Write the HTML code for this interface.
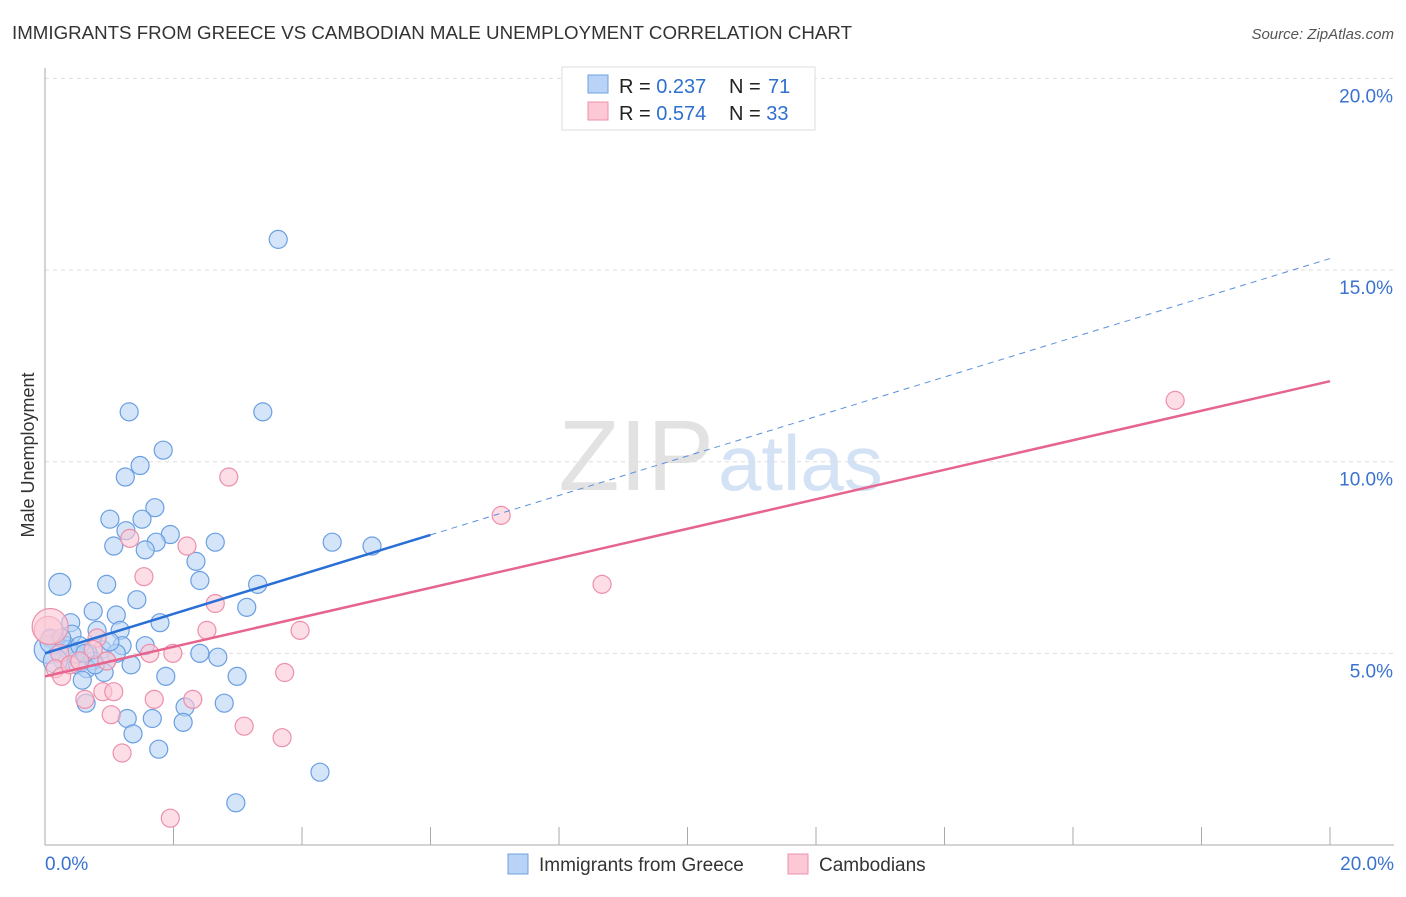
<!DOCTYPE html>
<html><head><meta charset="utf-8"><style>
body{margin:0;background:#fff;font-family:"Liberation Sans",sans-serif;}
svg text{font-family:"Liberation Sans",sans-serif;}
</style></head><body>
<svg id="chart" width="1406" height="892" xmlns="http://www.w3.org/2000/svg">
<text x="12" y="39" font-size="18" fill="#333" textLength="840" lengthAdjust="spacingAndGlyphs">IMMIGRANTS FROM GREECE VS CAMBODIAN MALE UNEMPLOYMENT CORRELATION CHART</text>
<text x="1394" y="39" font-size="15" fill="#555" font-style="italic" text-anchor="end">Source: ZipAtlas.com</text>
<text x="714" y="490" font-size="100" fill="#e2e2e2" text-anchor="end" font-family="Liberation Serif">ZIP</text>
<text x="718" y="490" font-size="78" fill="#d3e2f5">atlas</text>
<g id="grid"></g><g id="axes"></g><g id="pts"></g><g id="lines"></g>
<text x="34" y="455" font-size="18" fill="#333" text-anchor="middle" transform="rotate(-90 34 455)">Male Unemployment</text>
<g>
<rect x="562" y="67" width="253" height="63" fill="#fff" stroke="#ddd"/>
<rect x="588" y="75" width="20" height="18" fill="#b8d3f5" stroke="#6fa0e0"/>
<rect x="588" y="102" width="20" height="18" fill="#fcc8d6" stroke="#ec90ab"/>
<text x="619" y="93" font-size="20" fill="#222">R = <tspan fill="#2f6fd0">0.237</tspan></text>
<text x="729" y="93" font-size="20" fill="#222">N = <tspan x="768" fill="#2f6fd0">71</tspan></text>
<text x="619" y="120" font-size="20" fill="#222">R = <tspan fill="#2f6fd0">0.574</tspan></text>
<text x="729" y="120" font-size="20" fill="#222">N = <tspan fill="#2f6fd0">33</tspan></text>
</g>
<rect x="508" y="854" width="20" height="20" fill="#b8d3f5" stroke="#6fa0e0"/>
<text x="539" y="871" font-size="19" fill="#333">Immigrants from Greece</text>
<rect x="788" y="854" width="20" height="20" fill="#fcc8d6" stroke="#ec90ab"/>
<text x="819" y="871" font-size="19" fill="#333">Cambodians</text>
</svg>
<script>
const yTicks=[5,10,15,20];
const yTickLabels=["5.0%","10.0%","15.0%","20.0%"];
const xTickLabels=["0.0%","20.0%"];
const blueX=[3.63,1.31,3.39,1.84,1.48,1.25,1.71,1.01,1.51,1.26,1.95,1.07,1.73,1.56,2.65,4.47,5.09,2.35,0.23,0.96,2.41,3.31,1.43,0.75,1.11,3.14,1.79,0.40,1.17,0.81,0.42,0.08,1.56,1.20,0.17,0.33,0.89,0.67,1.11,2.41,2.69,1.34,0.28,0.96,0.51,0.75,0.65,0.92,1.88,0.58,2.99,0.64,2.18,2.79,1.28,1.67,2.15,1.37,1.77,4.28,2.97,0.05,0.11,0.47,0.36,0.16,0.78,1.01,0.54,0.26,0.62];
const blueY=[15.8,11.3,11.3,10.3,9.9,9.6,8.8,8.5,8.5,8.2,8.1,7.8,7.9,7.7,7.9,7.9,7.8,7.4,6.8,6.8,6.9,6.8,6.4,6.1,6.0,6.2,5.8,5.8,5.6,5.6,5.5,5.4,5.2,5.2,5.3,5.2,5.1,5.0,5.0,5.0,4.9,4.7,4.8,4.8,4.7,4.8,4.6,4.5,4.4,4.3,4.4,3.7,3.6,3.7,3.3,3.3,3.2,2.9,2.5,1.9,1.1,5.1,5.3,4.98,5.1,4.8,4.7,5.3,5.2,5.4,5.0];
const blueR=[9,9,9,9,9,9,9,9,9,9,9,9,9,9,9,9,9,9,11,9,9,9,9,9,9,9,9,9,9,9,9,9,9,9,9,9,9,9,9,9,9,9,9,9,9,9,9,9,9,9,9,9,9,9,9,9,9,9,9,9,9,14,12,9,9,12,9,9,9,9,9];
const pinkX=[17.59,7.10,8.67,2.86,2.21,1.32,1.54,2.65,3.97,2.52,1.63,1.99,0.81,3.73,0.75,0.96,0.23,0.16,0.26,0.62,0.90,1.07,1.70,2.30,1.03,3.10,3.69,1.20,1.95,0.05,0.39,0.54,0.08];
const pinkY=[11.6,8.6,6.8,9.6,7.8,8.0,7.0,6.3,5.6,5.6,5.0,5.0,5.4,4.5,5.1,4.8,5.0,4.6,4.4,3.8,4.0,4.0,3.8,3.8,3.4,3.1,2.8,2.4,0.7,5.6,4.7,4.8,5.7];
const pinkR=[9,9,9,9,9,9,9,9,9,9,9,9,9,9,9,9,9,9,9,9,9,9,9,9,9,9,9,9,9,14,9,9,18];
const blueTrend=[5.0,15.3];
const blueSolidEnd=6.0;
const pinkTrend=[4.4,12.1];
const NS="http://www.w3.org/2000/svg";
const sx=v=>45+v/20*1285, sy=v=>845-v*38.33;
function mk(t,a,p){const e=document.createElementNS(NS,t);for(const k in a)e.setAttribute(k,a[k]);p.appendChild(e);return e;}
const grid=document.getElementById('grid'),axes=document.getElementById('axes'),pts=document.getElementById('pts'),lines=document.getElementById('lines');
yTicks.forEach((t,i)=>{
 const g=mk('line',{x1:45,x2:1394,y1:sy(t),y2:sy(t),stroke:'#ddd','stroke-dasharray':'4,4'},grid);
 
 
 const l=mk('text',{x:1393,y:sy(t)+24,'font-size':19,fill:'#3a72d0','text-anchor':'end'},axes);
 l.textContent=yTickLabels[i];
 
 
});
const ax=mk('line',{x1:45,x2:45,y1:68,y2:845,stroke:'#aaa'},axes);


const bx=mk('line',{x1:45,x2:1394,y1:845,y2:845,stroke:'#aaa'},axes);


for(let i=1;i<=10;i++){const tk=mk('line',{x1:sx(i*2),x2:sx(i*2),y1:827,y2:845,stroke:'#aaa'},axes);
 
 }
[[0,'start',45],[20,'end',1394]].forEach((d,i)=>{const t=mk('text',{x:d[2],y:870,'font-size':19,fill:'#3a72d0','text-anchor':d[1]},axes);t.textContent=xTickLabels[i];
 
 });
function dots(X,Y,R,f,s,n){X.forEach((x,i)=>{const c=mk('circle',{cx:sx(x),cy:sy(Y[i]),r:R[i],fill:f,'fill-opacity':0.6,stroke:s,'stroke-width':1.2},pts);
 
 });}
dots(blueX,blueY,blueR,'#b8d3f5','#6a9fe2','greece-point');
dots(pinkX,pinkY,pinkR,'#fcc8d6','#ec90ab','cambodian-point');
const bv=x=>blueTrend[0]+(blueTrend[1]-blueTrend[0])*x/20;
const l1=mk('line',{x1:sx(0),y1:sy(bv(0)),x2:sx(blueSolidEnd),y2:sy(bv(blueSolidEnd)),stroke:'#2a6fd6','stroke-width':2.5},lines);


const l2=mk('line',{x1:sx(blueSolidEnd),y1:sy(bv(blueSolidEnd)),x2:sx(20),y2:sy(bv(20)),stroke:'#5a8fdc','stroke-width':1,'stroke-dasharray':'6,5'},lines);


const l3=mk('line',{x1:sx(0),y1:sy(pinkTrend[0]),x2:sx(20),y2:sy(pinkTrend[1]),stroke:'#e6648e','stroke-width':2.5},lines);


</script>
</body></html>
